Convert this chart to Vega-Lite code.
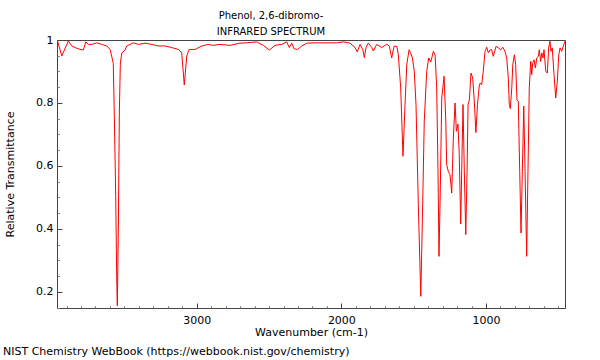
{
  "$schema": "https://vega.github.io/schema/vega-lite/v6.json",
  "width": 508,
  "height": 268,
  "autosize": {"type": "none"},
  "padding": {"left": 57, "top": 40, "right": 35, "bottom": 52},
  "background": "white",
  "title": {
    "text": ["Phenol, 2,6-dibromo-", "INFRARED SPECTRUM"],
    "font": "DejaVu Sans",
    "fontSize": 10,
    "fontWeight": "normal",
    "color": "#000000",
    "lineHeight": 16,
    "anchor": "middle",
    "dx": -40,
    "offset": -3
  },
  "config": {
    "view": {"stroke": "#444444", "strokeWidth": 1},
    "axis": {
      "labelFont": "DejaVu Sans",
      "labelFontSize": 11,
      "labelColor": "#000000",
      "titleFont": "DejaVu Sans",
      "titleFontSize": 11,
      "titleFontWeight": "normal",
      "titleColor": "#000000",
      "domainColor": "#444444",
      "domainWidth": 1,
      "tickColor": "#444444",
      "grid": false
    }
  },
  "resolve": {"axis": {"x": "independent", "y": "independent"}},
  "layer": [
    {
      "data": {"values": [
        {"w": 3966, "t": 0.994}, {"w": 3961, "t": 0.995}, {"w": 3933, "t": 0.949}, {"w": 3888, "t": 0.997},
        {"w": 3864, "t": 0.981}, {"w": 3841, "t": 0.976}, {"w": 3807, "t": 0.970}, {"w": 3784, "t": 0.968},
        {"w": 3767, "t": 0.994}, {"w": 3749, "t": 0.986}, {"w": 3726, "t": 0.986}, {"w": 3691, "t": 0.991},
        {"w": 3657, "t": 0.986}, {"w": 3622, "t": 0.981}, {"w": 3599, "t": 0.970}, {"w": 3583, "t": 0.939},
        {"w": 3577, "t": 0.926}, {"w": 3570, "t": 0.768}, {"w": 3560, "t": 0.503}, {"w": 3553, "t": 0.238},
        {"w": 3549, "t": 0.156}, {"w": 3542, "t": 0.397}, {"w": 3535, "t": 0.768}, {"w": 3528, "t": 0.927},
        {"w": 3518, "t": 0.958}, {"w": 3496, "t": 0.968}, {"w": 3484, "t": 0.981}, {"w": 3438, "t": 0.991},
        {"w": 3404, "t": 0.986}, {"w": 3357, "t": 0.990}, {"w": 3311, "t": 0.986}, {"w": 3265, "t": 0.981},
        {"w": 3219, "t": 0.981}, {"w": 3173, "t": 0.976}, {"w": 3127, "t": 0.970}, {"w": 3104, "t": 0.960},
        {"w": 3086, "t": 0.857}, {"w": 3069, "t": 0.949}, {"w": 3053, "t": 0.970}, {"w": 3012, "t": 0.970},
        {"w": 2965, "t": 0.981}, {"w": 2920, "t": 0.986}, {"w": 2885, "t": 0.983}, {"w": 2839, "t": 0.986},
        {"w": 2770, "t": 0.983}, {"w": 2701, "t": 0.990}, {"w": 2654, "t": 0.991}, {"w": 2585, "t": 0.994},
        {"w": 2540, "t": 0.983}, {"w": 2498, "t": 0.968}, {"w": 2459, "t": 0.983}, {"w": 2412, "t": 0.986},
        {"w": 2378, "t": 0.994}, {"w": 2360, "t": 0.976}, {"w": 2343, "t": 0.990}, {"w": 2327, "t": 0.972},
        {"w": 2304, "t": 0.970}, {"w": 2274, "t": 0.981}, {"w": 2240, "t": 0.990}, {"w": 2170, "t": 0.991},
        {"w": 2101, "t": 0.991}, {"w": 2032, "t": 0.991}, {"w": 1986, "t": 0.994}, {"w": 1940, "t": 0.990},
        {"w": 1906, "t": 0.976}, {"w": 1890, "t": 0.962}, {"w": 1871, "t": 0.986}, {"w": 1852, "t": 0.970},
        {"w": 1841, "t": 0.944}, {"w": 1830, "t": 0.976}, {"w": 1814, "t": 0.990}, {"w": 1790, "t": 0.976},
        {"w": 1779, "t": 0.965}, {"w": 1756, "t": 0.986}, {"w": 1721, "t": 0.976}, {"w": 1698, "t": 0.983},
        {"w": 1686, "t": 0.987}, {"w": 1668, "t": 0.980}, {"w": 1652, "t": 0.943}, {"w": 1636, "t": 0.980},
        {"w": 1617, "t": 0.980}, {"w": 1606, "t": 0.953}, {"w": 1590, "t": 0.848}, {"w": 1574, "t": 0.631},
        {"w": 1560, "t": 0.795}, {"w": 1548, "t": 0.922}, {"w": 1532, "t": 0.969}, {"w": 1521, "t": 0.959},
        {"w": 1509, "t": 0.943}, {"w": 1496, "t": 0.901}, {"w": 1484, "t": 0.795}, {"w": 1468, "t": 0.477},
        {"w": 1451, "t": 0.186}, {"w": 1438, "t": 0.477}, {"w": 1427, "t": 0.742}, {"w": 1410, "t": 0.901},
        {"w": 1396, "t": 0.943}, {"w": 1382, "t": 0.930}, {"w": 1364, "t": 0.964}, {"w": 1352, "t": 0.953},
        {"w": 1341, "t": 0.848}, {"w": 1332, "t": 0.583}, {"w": 1325, "t": 0.313}, {"w": 1316, "t": 0.530},
        {"w": 1306, "t": 0.816}, {"w": 1290, "t": 0.885}, {"w": 1278, "t": 0.742}, {"w": 1272, "t": 0.604},
        {"w": 1261, "t": 0.583}, {"w": 1249, "t": 0.572}, {"w": 1237, "t": 0.514}, {"w": 1226, "t": 0.689},
        {"w": 1214, "t": 0.800}, {"w": 1205, "t": 0.710}, {"w": 1194, "t": 0.733}, {"w": 1185, "t": 0.636},
        {"w": 1175, "t": 0.416}, {"w": 1166, "t": 0.636}, {"w": 1159, "t": 0.795}, {"w": 1150, "t": 0.583},
        {"w": 1140, "t": 0.382}, {"w": 1131, "t": 0.583}, {"w": 1124, "t": 0.795}, {"w": 1115, "t": 0.810},
        {"w": 1104, "t": 0.895}, {"w": 1092, "t": 0.879}, {"w": 1081, "t": 0.806}, {"w": 1070, "t": 0.706},
        {"w": 1059, "t": 0.795}, {"w": 1047, "t": 0.854}, {"w": 1041, "t": 0.863}, {"w": 1030, "t": 0.858},
        {"w": 1019, "t": 0.901}, {"w": 1007, "t": 0.964}, {"w": 995, "t": 0.977}, {"w": 984, "t": 0.959},
        {"w": 972, "t": 0.969}, {"w": 961, "t": 0.969}, {"w": 950, "t": 0.948}, {"w": 931, "t": 0.980},
        {"w": 915, "t": 0.975}, {"w": 898, "t": 0.969}, {"w": 884, "t": 0.977}, {"w": 869, "t": 0.964},
        {"w": 857, "t": 0.943}, {"w": 846, "t": 0.879}, {"w": 839, "t": 0.795}, {"w": 832, "t": 0.782},
        {"w": 822, "t": 0.848}, {"w": 815, "t": 0.922}, {"w": 804, "t": 0.953}, {"w": 795, "t": 0.922},
        {"w": 786, "t": 0.810}, {"w": 777, "t": 0.805}, {"w": 767, "t": 0.583}, {"w": 758, "t": 0.387},
        {"w": 749, "t": 0.583}, {"w": 739, "t": 0.790}, {"w": 730, "t": 0.583}, {"w": 719, "t": 0.313},
        {"w": 710, "t": 0.583}, {"w": 701, "t": 0.848}, {"w": 691, "t": 0.932}, {"w": 684, "t": 0.890},
        {"w": 677, "t": 0.927}, {"w": 668, "t": 0.937}, {"w": 659, "t": 0.911}, {"w": 649, "t": 0.943},
        {"w": 638, "t": 0.948}, {"w": 632, "t": 0.969}, {"w": 622, "t": 0.932}, {"w": 615, "t": 0.959},
        {"w": 606, "t": 0.943}, {"w": 599, "t": 0.969}, {"w": 587, "t": 0.901}, {"w": 576, "t": 0.895},
        {"w": 567, "t": 0.975}, {"w": 558, "t": 0.996}, {"w": 551, "t": 0.964}, {"w": 542, "t": 0.975},
        {"w": 530, "t": 0.890}, {"w": 518, "t": 0.816}, {"w": 507, "t": 0.869}, {"w": 497, "t": 0.953},
        {"w": 488, "t": 0.975}, {"w": 477, "t": 0.964}, {"w": 466, "t": 0.980}, {"w": 454, "t": 0.996}
      ]},
      "mark": {"type": "line", "color": "#ff0000", "strokeWidth": 1, "clip": true},
      "encoding": {
        "x": {
          "field": "w", "type": "quantitative",
          "scale": {"domain": [454, 3966], "reverse": true, "nice": false, "zero": false},
          "axis": {
            "orient": "bottom",
            "title": "Wavenumber (cm-1)",
            "values": [3000, 2000, 1000],
            "format": "d",
            "tickSize": -5,
            "labelPadding": 11,
            "titlePadding": 1,
            "labelFlush": false
          }
        },
        "y": {
          "field": "t", "type": "quantitative",
          "scale": {"domain": [0.149, 1.0], "nice": false, "zero": false},
          "axis": {
            "orient": "left",
            "title": "Relative Transmittance",
            "values": [0.2, 0.4, 0.6, 0.8, 1.0],
            "format": "~g",
            "tickSize": -5,
            "labelPadding": 9,
            "titlePadding": 20
          }
        }
      }
    },
    {
      "mark": {"type": "rule", "color": "#a0a0a0", "strokeWidth": 2},
      "encoding": {
        "x": {
          "datum": 454, "type": "quantitative",
          "axis": {
            "orient": "bottom",
            "title": null,
            "labels": false,
            "domain": false,
            "tickSize": -2.5,
            "tickColor": "#888888",
            "values": [3900, 3800, 3700, 3600, 3500, 3400, 3300, 3200, 3100, 2900, 2800, 2700, 2600, 2500, 2400, 2300, 2200, 2100, 1900, 1800, 1700, 1600, 1500, 1400, 1300, 1200, 1100, 900, 800, 700, 600, 500]
          }
        },
        "x2": {"datum": 3966},
        "y": {
          "datum": 1.0, "type": "quantitative",
          "axis": {
            "orient": "left",
            "title": null,
            "labels": false,
            "domain": false,
            "tickSize": -2.5,
            "tickColor": "#888888",
            "values": [0.15, 0.25, 0.3, 0.35, 0.45, 0.5, 0.55, 0.65, 0.7, 0.75, 0.85, 0.9, 0.95]
          }
        }
      }
    },
    {
      "data": {"values": [{"label": "NIST Chemistry WebBook (https://webbook.nist.gov/chemistry)"}]},
      "mark": {"type": "text", "align": "left", "baseline": "alphabetic", "font": "DejaVu Sans", "fontSize": 11, "color": "#000000", "clip": false},
      "encoding": {
        "text": {"field": "label"},
        "x": {"value": -54},
        "y": {"value": 315}
      }
    }
  ]
}
